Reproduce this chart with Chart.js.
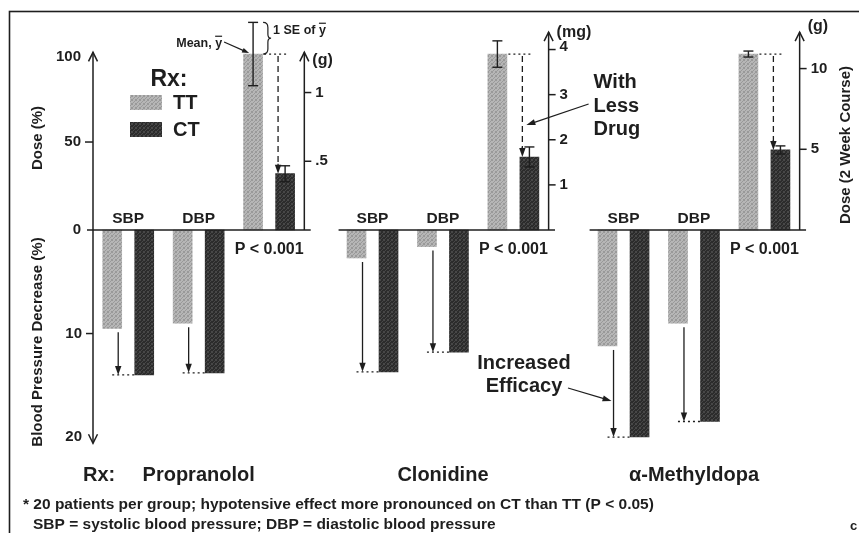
<!DOCTYPE html>
<html>
<head>
<meta charset="utf-8">
<title>Dose and blood pressure response, TT vs CT</title>
<script src="https://cdn.jsdelivr.net/npm/chart.js@4.4.0/dist/chart.umd.min.js"></script>
<style>
  html, body { margin: 0; padding: 0; background: #fff; }
  #wrap { width: 859px; height: 533px; }
</style>
</head>
<body>
<div id="wrap"><canvas id="rxChart" width="859" height="533"></canvas></div>
<script>
// one entry per drug, same order everywhere
var drugs = ['Propranolol', 'Clonidine', '\u03b1-Methyldopa'];

// blood pressure decrease (%)
var sbpTT = [9.5, 2.7, 11.2];
var sbpCT = [14.0, 13.7, 20.0];
var dbpTT = [9.0, 1.6, 9.0];
var dbpCT = [13.8, 11.8, 18.5];

// dose (% of TT dose) and standard error
var doseTT = [100, 100, 100];
var doseCT = [32, 41.5, 45.5];
var doseSeTT = [18, 7.5, 1.7];
var doseSeCT = [4.5, 5.7, 2.3];

// absolute dose scale drawn at the right of each drug
var unitLabels = ['(g)', '(mg)', '(g)'];
var unitFull = [1.28, 3.9, 10.9];
var unitTicks = [[0.5, 1], [1, 2, 3, 4], [5, 10]];
var unitTickText = [['.5', '1'], ['1', '2', '3', '4'], ['5', '10']];

var doseTicks = [50, 100];
var doseTickText = ['50', '100'];
var bpTicks = [10, 20];
var bpTickText = ['10', '20'];

// x layout: each drug gets its own block of slots
var groupStart = [0, 7.63, 15.47];
var slot = { sbpTT: 0, sbpCT: 1, dbpTT: 2.2, dbpCT: 3.2, doseTT: 4.4, doseCT: 5.4, axis: 6.0 };

var FONT = '"Liberation Sans", Arial, Helvetica, sans-serif';
var INK = '#1e1e1e';

function pts(vals, s) {
    return vals.map(function(v, i){
        return { x: groupStart[i] + s, y: v };
    });
}

var canvas = document.getElementById('rxChart');
var ctx0 = canvas.getContext('2d');

// small halftone-like tile for the bar fills
function stipple(base, dot) {
    var c = document.createElement('canvas');
    c.width = 4; c.height = 4;
    var g = c.getContext('2d');
    g.fillStyle = base;
    g.fillRect(0, 0, 4, 4);
    g.fillStyle = dot;
    [[0, 0], [2, 1], [1, 2], [3, 3], [3, 0], [0, 3]].forEach(function(p){
        g.fillRect(p[0], p[1], 1, 1);
    });
    return ctx0.createPattern(c, 'repeat');
}

var ttFill = stipple('#b6b6b6', '#999999');
var ctFill = stipple('#2c2c2c', '#484848');

function font(size) { return 'bold ' + size + 'px ' + FONT; }

function line(ctx, x1, y1, x2, y2) {
    ctx.beginPath();
    ctx.moveTo(x1, y1);
    ctx.lineTo(x2, y2);
    ctx.stroke();
}

// open V arrowhead, used on the axes
function openHead(ctx, x, y, dir) {
    ctx.beginPath();
    ctx.moveTo(x - 4.5, y - dir * 9);
    ctx.lineTo(x, y);
    ctx.lineTo(x + 4.5, y - dir * 9);
    ctx.stroke();
}

// filled arrowhead pointing from (x1,y1) to (x2,y2)
function solidArrow(ctx, x1, y1, x2, y2, len, half) {
    var a = Math.atan2(y2 - y1, x2 - x1);
    line(ctx, x1, y1, x2 - Math.cos(a) * len * 0.6, y2 - Math.sin(a) * len * 0.6);
    ctx.beginPath();
    ctx.moveTo(x2, y2);
    ctx.lineTo(x2 - Math.cos(a) * len + Math.sin(a) * half, y2 - Math.sin(a) * len - Math.cos(a) * half);
    ctx.lineTo(x2 - Math.cos(a) * len - Math.sin(a) * half, y2 - Math.sin(a) * len + Math.cos(a) * half);
    ctx.closePath();
    ctx.fill();
}

function brace(ctx, x, y1, y2, w) {
    var m = (y1 + y2) / 2;
    ctx.beginPath();
    ctx.moveTo(x, y1);
    ctx.quadraticCurveTo(x + w * 0.6, y1, x + w * 0.6, y1 + 5);
    ctx.lineTo(x + w * 0.6, m - 4);
    ctx.quadraticCurveTo(x + w * 0.6, m, x + w, m);
    ctx.quadraticCurveTo(x + w * 0.6, m, x + w * 0.6, m + 4);
    ctx.lineTo(x + w * 0.6, y2 - 5);
    ctx.quadraticCurveTo(x + w * 0.6, y2, x, y2);
    ctx.stroke();
}

// text with a bar drawn over its last character (y-bar)
function barText(ctx, txt, x, y, size) {
    ctx.textAlign = 'left';
    ctx.fillText(txt, x, y);
    var w = ctx.measureText(txt).width;
    var wy = ctx.measureText('y').width;
    ctx.lineWidth = 1.2;
    line(ctx, x + w - wy, y - size * 0.86, x + w, y - size * 0.86);
    return w;
}

function vText(ctx, txt, x, y) {
    ctx.save();
    ctx.translate(x, y);
    ctx.rotate(-Math.PI / 2);
    ctx.textAlign = 'center';
    ctx.textBaseline = 'middle';
    ctx.fillText(txt, 0, 0);
    ctx.restore();
}

var drawing = {
    id: 'rxDrawing',
    afterDatasetsDraw: function(chart) {
        var ctx = chart.ctx;
        var xs = chart.scales.x, ds = chart.scales.dose, bs = chart.scales.bp;
        var X = function(u){ return xs.getPixelForValue(u); };
        var D = function(v){ return ds.getPixelForValue(v); };
        var B = function(v){ return bs.getPixelForValue(v); };
        var zeroY = D(0);

        ctx.save();
        ctx.strokeStyle = INK;
        ctx.fillStyle = INK;
        ctx.lineCap = 'butt';

        // frame
        ctx.lineWidth = 1.6;
        ctx.strokeRect(9.5, 11.5, 900, 600);

        // left axis: dose up, blood pressure decrease down
        var ax = X(-0.6);
        ctx.lineWidth = 1.5;
        line(ctx, ax, D(101), ax, B(20.6));
        openHead(ctx, ax, D(101), -1);
        openHead(ctx, ax, B(20.6), 1);
        ctx.font = font(15);
        ctx.textAlign = 'right';
        ctx.textBaseline = 'middle';
        doseTicks.forEach(function(t, i){
            if (t < 100) line(ctx, ax - 8, D(t), ax, D(t));
            ctx.fillText(doseTickText[i], ax - 12, D(t) + (t == 100 ? 3 : 0));
        });
        ctx.fillText('0', ax - 12, zeroY);
        bpTicks.forEach(function(t, i){
            if (t < 20) line(ctx, ax - 7, B(t), ax, B(t));
            ctx.fillText(bpTickText[i], ax - 11, B(t));
        });

        // axis titles
        vText(ctx, 'Dose (%)', 38, 138);
        vText(ctx, 'Blood Pressure Decrease (%)', 38, 342);
        vText(ctx, 'Dose (2 Week Course)', 846, 145);

        // per drug decorations
        var axisTop = [101, 112.5, 112.5];
        drugs.forEach(function(name, i){
            var g = groupStart[i];

            // zero line
            ctx.lineWidth = 1.5;
            ctx.setLineDash([]);
            line(ctx, i == 0 ? ax - 6 : X(g - 0.56), zeroY, X(g + 6.2), zeroY);

            // absolute dose axis
            var rx = X(g + slot.axis);
            var top = D(axisTop[i]);
            line(ctx, rx, zeroY, rx, top);
            openHead(ctx, rx, top, -1);
            ctx.font = font(15);
            ctx.textAlign = 'left';
            ctx.textBaseline = 'middle';
            unitTicks[i].forEach(function(t, k){
                var y = D(t / unitFull[i] * 100);
                line(ctx, rx, y, rx + 7, y);
                ctx.fillText(unitTickText[i][k], rx + 11, y - (i == 1 && t == 4 ? 3 : 0));
            });
            var uy = [top + 8, top + 1, top - 5][i];
            ctx.font = font(16);
            ctx.fillText(unitLabels[i], rx + 8, uy);

            // SBP / DBP / P labels
            ctx.font = font(15.5);
            ctx.textAlign = 'center';
            ctx.fillText('SBP', X(g + 0.5), zeroY - 11);
            ctx.fillText('DBP', X(g + 2.7), zeroY - 11);
            ctx.font = font(16);
            ctx.fillText('P < 0.001', X(g + 4.9), zeroY + 20);

            // error bars
            ctx.lineWidth = 1.4;
            [[slot.doseTT, doseTT[i], doseSeTT[i]], [slot.doseCT, doseCT[i], doseSeCT[i]]].forEach(function(e){
                var ex = X(g + e[0]);
                var y1 = D(e[1] + e[2]), y2 = D(e[1] - e[2]);
                line(ctx, ex, y1, ex, y2);
                line(ctx, ex - 5, y1, ex + 5, y1);
                line(ctx, ex - 5, y2, ex + 5, y2);
            });

            // dose reduction: dotted level, dashed drop to the CT bar
            var yTT = D(doseTT[i]);
            var yCT = D(doseCT[i]);
            var dx = X(g + slot.doseCT - 0.22);
            ctx.lineWidth = 1.3;
            ctx.setLineDash([2, 3]);
            line(ctx, X(g + slot.doseTT) + 11, yTT, X(g + slot.doseCT) + 2, yTT);
            ctx.setLineDash([6, 4]);
            line(ctx, dx, yTT + 2, dx, yCT - 8);
            ctx.setLineDash([]);
            solidArrow(ctx, dx, yCT - 10, dx, yCT, 9, 3.2);

            // blood pressure gain: arrow from TT bar down to CT level
            [[slot.sbpTT, slot.sbpCT, sbpTT[i], sbpCT[i]], [slot.dbpTT, slot.dbpCT, dbpTT[i], dbpCT[i]]].forEach(function(p){
                var px = X(g + p[0]) + 6;
                var yEnd = B(p[3]);
                ctx.lineWidth = 1.3;
                solidArrow(ctx, px, B(p[2]) + 4, px, yEnd, 9, 3.2);
                ctx.setLineDash([2, 3]);
                line(ctx, X(g + p[0]), yEnd, X(g + p[1]) - 10, yEnd);
                ctx.setLineDash([]);
            });

            // drug name
            ctx.font = font(20);
            ctx.textAlign = 'center';
            ctx.textBaseline = 'middle';
            ctx.fillText(name, X(g + 2.7), 475);
        });

        ctx.textBaseline = 'middle';
        ctx.font = font(20);
        ctx.textAlign = 'left';
        ctx.fillText('Rx:', 83, 475);

        // legend
        var sets = chart.data.datasets;
        ctx.font = font(23);
        ctx.textAlign = 'center';
        ctx.fillText('Rx:', 169, 80);
        ctx.fillStyle = sets[0].backgroundColor;
        ctx.fillRect(130, 95, 32, 15);
        ctx.fillStyle = sets[1].backgroundColor;
        ctx.fillRect(130, 122, 32, 15);
        ctx.fillStyle = INK;
        ctx.font = font(20);
        ctx.textAlign = 'left';
        ctx.fillText('TT', 173, 103);
        ctx.fillText('CT', 173, 130);

        // mean and SE note on the first TT dose bar
        var mx = X(slot.doseTT);
        ctx.font = font(12.5);
        ctx.textBaseline = 'alphabetic';
        var mw = ctx.measureText('Mean, y').width;
        barText(ctx, 'Mean, y', mx - 31 - mw, 47, 12.5);
        ctx.lineWidth = 1.2;
        solidArrow(ctx, mx - 29, 42, mx - 4, D(doseTT[0]) - 1, 7, 2.5);
        ctx.font = font(12.5);
        barText(ctx, '1 SE of y', mx + 20, 34, 12.5);
        ctx.lineWidth = 1.2;
        brace(ctx, mx + 10, D(doseTT[0] + doseSeTT[0]), D(doseTT[0]), 8);

        // clonidine note
        var cx = X(groupStart[1] + slot.axis);
        ctx.font = font(20);
        ctx.textAlign = 'left';
        ctx.textBaseline = 'middle';
        ctx.fillText('With', cx + 45, 82);
        ctx.fillText('Less', cx + 45, 106);
        ctx.fillText('Drug', cx + 45, 129);
        ctx.lineWidth = 1.3;
        solidArrow(ctx, cx + 40, 104, X(groupStart[1] + slot.doseCT - 0.22) + 4, 125, 9, 3);

        // methyldopa note
        ctx.font = font(20);
        ctx.textAlign = 'center';
        ctx.fillText('Increased', 524, 363);
        ctx.fillText('Efficacy', 524, 386);
        solidArrow(ctx, 568, 388, X(groupStart[2] + slot.sbpTT) + 4, 401, 9, 3);

        // footnote
        ctx.font = font(15.5);
        ctx.textAlign = 'left';
        ctx.fillText('* 20 patients per group; hypotensive effect more pronounced on CT than TT (P < 0.05)', 23, 505);
        ctx.fillText('SBP = systolic blood pressure; DBP = diastolic blood pressure', 33, 525);
        ctx.font = font(13);
        ctx.fillText('c', 850, 526);

        ctx.restore();
    }
};

var rxChart = new Chart(canvas, {
    type: 'bar',
    data: {
        datasets: [{
            label: 'TT',
            data: pts(sbpTT, slot.sbpTT).concat(pts(dbpTT, slot.dbpTT)),
            backgroundColor: ttFill,
            yAxisID: 'bp'
        }, {
            label: 'CT',
            data: pts(sbpCT, slot.sbpCT).concat(pts(dbpCT, slot.dbpCT)),
            backgroundColor: ctFill,
            yAxisID: 'bp'
        }, {
            label: 'TT dose',
            data: pts(doseTT, slot.doseTT),
            backgroundColor: ttFill,
            yAxisID: 'dose'
        }, {
            label: 'CT dose',
            data: pts(doseCT, slot.doseCT),
            backgroundColor: ctFill,
            yAxisID: 'dose'
        }]
    },
    options: {
        responsive: false,
        animation: false,
        devicePixelRatio: 1,
        layout: { padding: { left: 93, right: 60, top: 12, bottom: 88 } },
        plugins: {
            legend: { display: false },
            tooltip: { enabled: false }
        },
        datasets: {
            bar: { grouped: false, barThickness: 19, borderWidth: 0 }
        },
        scales: {
            x: { type: 'linear', offset: false, min: -0.6, max: 21.45, display: false },
            dose: { type: 'linear', position: 'left', min: -122.2, max: 123.9, display: false },
            bp: { type: 'linear', position: 'left', reverse: true, min: -21.07, max: 20.77, display: false }
        }
    },
    plugins: [drawing]
});
</script>
</body>
</html>
